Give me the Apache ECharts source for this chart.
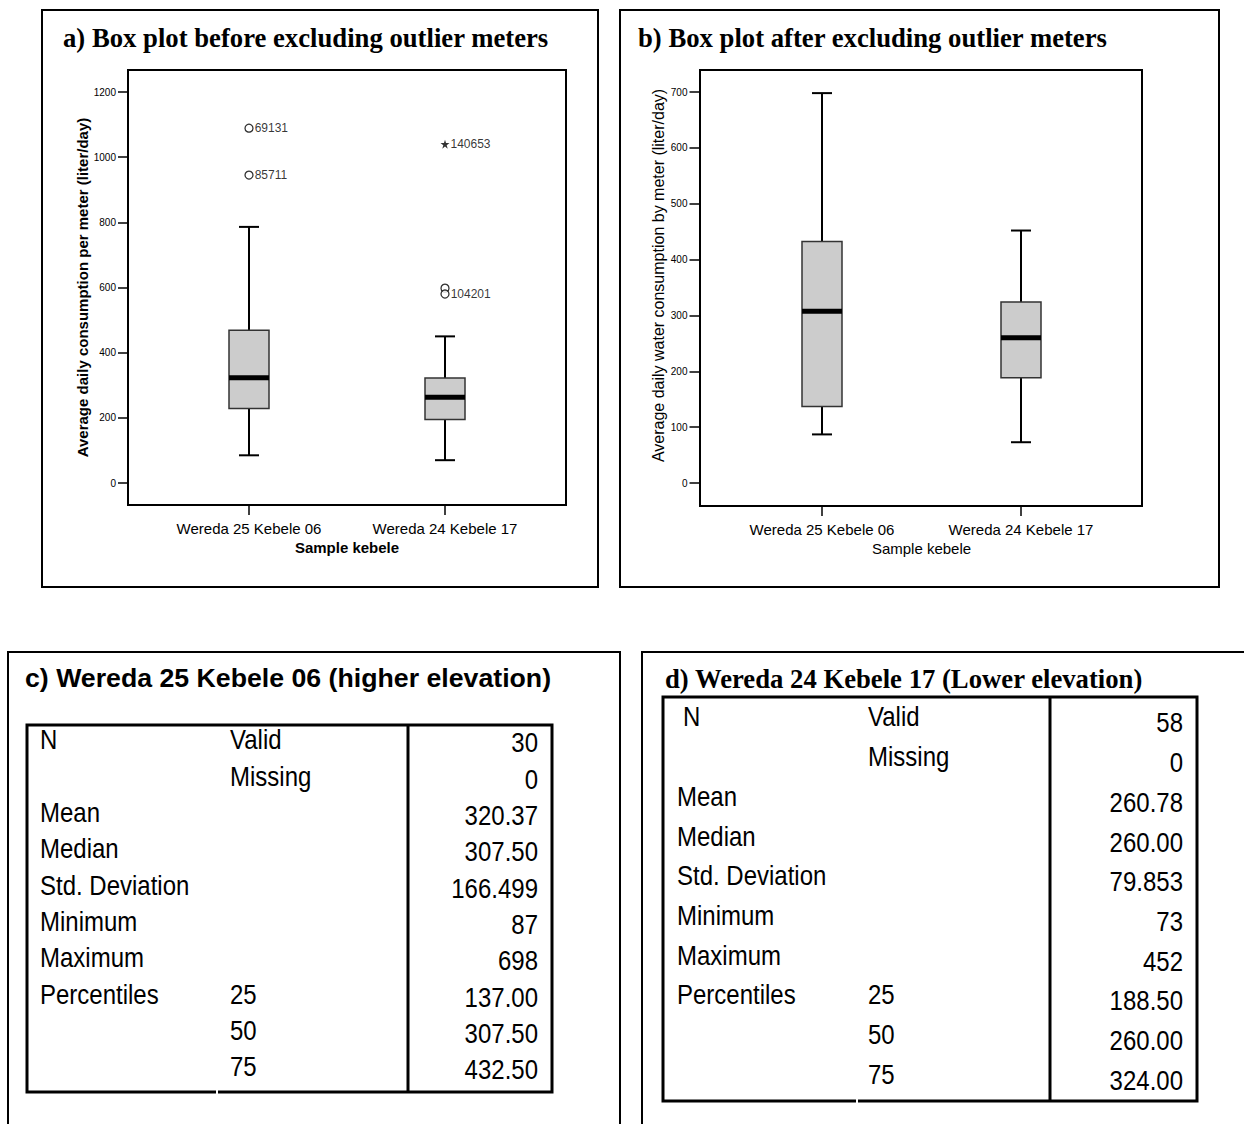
<!DOCTYPE html>
<html>
<head>
<meta charset="utf-8">
<script src="https://cdn.jsdelivr.net/npm/echarts@6/dist/echarts.min.js"></script>
<style>
html,body{margin:0;padding:0;background:#fff;}
#main{width:1244px;height:1124px;}
</style>
</head>
<body>
<div id="main"></div>
<script>
// ---------- DATA ----------
const categories = ['Wereda 25 Kebele 06', 'Wereda 24 Kebele 17'];
// [min, Q1, median, Q3, max]
const boxBefore = [[85, 229, 323, 469, 786], [70, 195, 263, 322, 450]];
const boxAfter = [[87, 137, 307.5, 432.5, 698], [73, 188.5, 260, 324, 452]];
const outlierCat = [0, 0, 1, 1, 1];
const outlierVal = [1089, 945, 1040, 598, 580];
const outlierIds = ['69131', '85711', '140653', '', '104201'];
const outlierMark = ['circle', 'circle', 'star', 'circle', 'circle'];

const statLabels = ['N', '', 'Mean', 'Median', 'Std. Deviation', 'Minimum', 'Maximum', 'Percentiles', '', ''];
const statSub = ['Valid', 'Missing', '', '', '', '', '', '25', '50', '75'];
const valuesC = ['30', '0', '320.37', '307.50', '166.499', '87', '698', '137.00', '307.50', '432.50'];
const valuesD = ['58', '0', '260.78', '260.00', '79.853', '73', '452', '188.50', '260.00', '324.00'];

// ---------- CHART ----------
const SANS = '"Liberation Sans", Arial, sans-serif';
const SERIF = '"Liberation Serif", "Times New Roman", serif';
const chart = echarts.init(document.getElementById('main'), null, {renderer: 'svg'});

function renderBox(params, api) {
  const c = api.value(0);
  const p = [1, 2, 3, 4, 5].map(i => api.coord([c, api.value(i)]));
  const x = p[0][0];
  const yMin = p[0][1], yQ1 = p[1][1], yMed = p[2][1], yQ3 = p[3][1], yMax = p[4][1];
  const hw = 20, cw = 10;
  const ln = {stroke: '#000', lineWidth: 2};
  return {type: 'group', children: [
    {type: 'line', shape: {x1: x, y1: yQ1, x2: x, y2: yMin}, style: ln},
    {type: 'line', shape: {x1: x, y1: yQ3, x2: x, y2: yMax}, style: ln},
    {type: 'line', shape: {x1: x - cw, y1: yMin, x2: x + cw, y2: yMin}, style: ln},
    {type: 'line', shape: {x1: x - cw, y1: yMax, x2: x + cw, y2: yMax}, style: ln},
    {type: 'rect', shape: {x: x - hw, y: yQ3, width: 2 * hw, height: yQ1 - yQ3}, style: {fill: '#cccccc', stroke: '#333', lineWidth: 1.5}},
    {type: 'line', shape: {x1: x - hw, y1: yMed, x2: x + hw, y2: yMed}, style: {stroke: '#000', lineWidth: 5}}
  ]};
}

const starPath = 'path://M50,0 L61,35 L98,35 L68,57 L79,91 L50,70 L21,91 L32,57 L2,35 L39,35 Z';

function xAxisCfg(gi, bold, off) {
  return {
    gridIndex: gi, type: 'category', data: categories, offset: off,
    axisLine: {show: false, onZero: false},
    axisTick: {show: true, alignWithLabel: true, length: 10, lineStyle: {color: '#000', width: 1.5}},
    axisLabel: {fontSize: 15, color: '#000', margin: 16, fontFamily: SANS},
    name: 'Sample kebele', nameLocation: 'middle', nameGap: 35,
    nameTextStyle: {fontSize: 15, color: '#000', fontFamily: SANS, fontWeight: bold ? 'bold' : 'normal'}
  };
}
function yAxisCfg(gi, max, interval, name, bold, fs, gap, pad) {
  return {
    gridIndex: gi, type: 'value', min: 0, max: max, interval: interval, offset: 23,
    axisLine: {show: false, onZero: false},
    axisTick: {show: true, length: 10, lineStyle: {color: '#000', width: 1.5}},
    splitLine: {show: false},
    axisLabel: {fontSize: 10, color: '#000', margin: 12, fontFamily: SANS, formatter: v => String(v)},
    name: name, nameLocation: 'middle', nameGap: gap,
    nameTextStyle: {fontSize: fs, color: '#000', fontFamily: SANS, fontWeight: bold ? 'bold' : 'normal', padding: pad}
  };
}

// table graphics
function tableGraphics(cfg, values) {
  const els = [];
  els.push({type: 'rect', shape: {x: cfg.x, y: cfg.y, width: cfg.w, height: cfg.h}, style: {fill: 'none', stroke: '#000', lineWidth: 3}});
  els.push({type: 'line', shape: {x1: cfg.vx, y1: cfg.y, x2: cfg.vx, y2: cfg.y + cfg.h}, style: {stroke: '#000', lineWidth: 3}});
  els.push({type: 'rect', shape: {x: cfg.gap, y: cfg.y + cfg.h - 3, width: 2, height: 6}, style: {fill: '#fff'}});
  const txt = (t, x, y, align) => ({type: 'text', x: x, y: y, scaleY: 1.12, originY: 0,
    style: {text: t, font: '24px ' + SANS, fill: '#000', textAlign: align, textVerticalAlign: 'middle'}});
  for (let i = 0; i < statLabels.length; i++) {
    const ly = cfg.ly0 + i * cfg.step;
    const vy = cfg.vy0 + i * cfg.step;
    if (statLabels[i]) els.push(txt(statLabels[i], i === 0 ? cfg.nx : cfg.lx, ly, 'left'));
    if (statSub[i]) els.push(txt(statSub[i], cfg.sx, ly, 'left'));
    els.push(txt(values[i], cfg.rx, vy, 'right'));
  }
  return els;
}

const graphics = [
  // panel borders
  {type: 'rect', shape: {x: 42, y: 10, width: 556, height: 577}, style: {fill: 'none', stroke: '#000', lineWidth: 2}},
  {type: 'rect', shape: {x: 620, y: 10, width: 599, height: 577}, style: {fill: 'none', stroke: '#000', lineWidth: 2}},
  {type: 'rect', shape: {x: 8, y: 652, width: 612, height: 520}, style: {fill: 'none', stroke: '#000', lineWidth: 2}},
  {type: 'rect', shape: {x: 642, y: 652, width: 620, height: 520}, style: {fill: 'none', stroke: '#000', lineWidth: 2}},
  // plot frames
  {type: 'rect', shape: {x: 128, y: 70, width: 438, height: 435}, style: {fill: 'none', stroke: '#000', lineWidth: 2}},
  {type: 'rect', shape: {x: 700, y: 70, width: 442, height: 436}, style: {fill: 'none', stroke: '#000', lineWidth: 2}},
  // titles
  {type: 'text', x: 63, y: 38, style: {text: 'a) Box plot before excluding outlier meters', font: 'bold 26.7px ' + SERIF, fill: '#000', textVerticalAlign: 'middle'}},
  {type: 'text', x: 638, y: 38, style: {text: 'b) Box plot after excluding outlier meters', font: 'bold 26.7px ' + SERIF, fill: '#000', textVerticalAlign: 'middle'}},
  {type: 'text', x: 25, y: 678, style: {text: 'c) Wereda 25 Kebele 06 (higher elevation)', font: 'bold 26.7px ' + SANS, fill: '#000', textVerticalAlign: 'middle'}},
  {type: 'text', x: 665, y: 679, style: {text: 'd) Wereda 24 Kebele 17 (Lower elevation)', font: 'bold 26.7px ' + SERIF, fill: '#000', textVerticalAlign: 'middle'}}
].concat(
  tableGraphics({x: 27, y: 725, w: 525, h: 367, vx: 408, gap: 216, nx: 40, lx: 40, sx: 230, rx: 538, ly0: 740, vy0: 743, step: 36.3}, valuesC),
  tableGraphics({x: 663, y: 697, w: 534, h: 404, vx: 1050, gap: 856, nx: 683, lx: 677, sx: 868, rx: 1183, ly0: 717, vy0: 723, step: 39.7}, valuesD)
);

const option = {
  animation: false,
  backgroundColor: '#fff',
  grid: [
    {left: 151, top: 92, width: 392, height: 391},
    {left: 722.5, top: 92, width: 398, height: 391}
  ],
  xAxis: [xAxisCfg(0, true, 22), xAxisCfg(1, false, 23)],
  yAxis: [
    yAxisCfg(0, 1200, 200, 'Average daily consumption per meter (liter/day)', true, 15, 36, [0, 0, 0, 0]),
    yAxisCfg(1, 700, 100, 'Average daily water consumption by meter (liter/day)', false, 16, 32, [0, 0, 0, 24])
  ],
  series: [
    {type: 'custom', xAxisIndex: 0, yAxisIndex: 0, renderItem: renderBox,
     encode: {x: 0, y: [1, 2, 3, 4, 5]}, data: boxBefore.map((b, i) => [i].concat(b))},
    {type: 'custom', xAxisIndex: 1, yAxisIndex: 1, renderItem: renderBox,
     encode: {x: 0, y: [1, 2, 3, 4, 5]}, data: boxAfter.map((b, i) => [i].concat(b))},
    {type: 'scatter', xAxisIndex: 0, yAxisIndex: 0, z: 5,
     data: outlierVal.map((v, i) => ({
       value: [outlierCat[i], v],
       symbol: outlierMark[i] === 'star' ? starPath : 'circle',
       symbolSize: outlierMark[i] === 'star' ? 9 : 8,
       itemStyle: outlierMark[i] === 'star' ? {color: '#000'} : {color: '#fff', borderColor: '#000', borderWidth: 1.3},
       label: {formatter: outlierIds[i]}
     })),
     label: {show: true, position: 'right', distance: 1, fontSize: 12, color: '#000', fontFamily: SANS}}
  ],
  graphic: graphics
};
chart.setOption(option);
</script>
</body>
</html>
